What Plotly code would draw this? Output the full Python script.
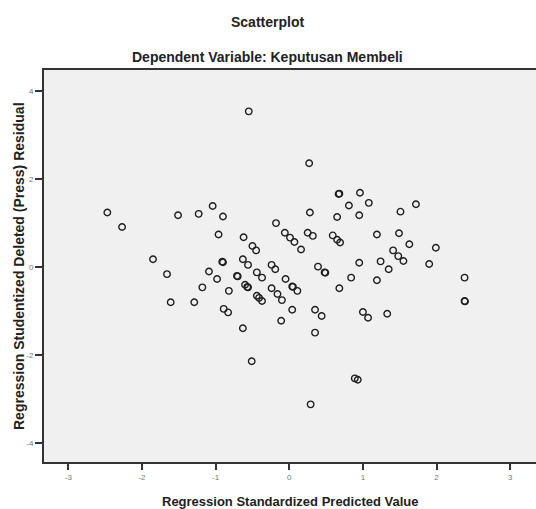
import plotly.graph_objects as go

# Regression standardized predicted value (x) and studentized deleted residual (y)
pred = [
    -0.55, -2.47, -2.27, -1.51, -1.23, -1.04, -0.90, -0.96, -0.62, -0.50,
    -0.45, -0.18, 0.27, 0.67, 0.68, 0.96, 0.81, 1.08, 1.72, 0.28,
    0.65, 0.95, 1.51, -0.06, 0.01, 0.07, 0.16, 0.25, 0.32, 0.59,
    0.65, 0.69, 1.19, 1.49, 1.63, 1.99, 1.41, 1.48, 1.55, -0.24,
    -0.19, 0.39, 0.48, 0.49, 0.95, 1.24, 1.35, 1.90, 2.38, 2.38,
    2.385, -0.37, -0.05, 0.04, 0.05, 0.11, 0.84, 1.19, 0.68, -0.24,
    -0.16, -0.10, -0.37, 0.04, 0.35, 0.44, 1.00, 1.07, 1.33, -0.11,
    0.35, 0.89, 0.93, 0.29, -1.85, -1.66, -1.61, -1.29, -1.18, -1.09,
    -0.98, -0.91, -0.90, -0.82, -0.89, -0.83, -0.63, -0.51, -0.71, -0.70,
    -0.60, -0.57, -0.56, -0.63, -0.56, -0.44, -0.44, -0.41,
]
resid = [
    3.54, 1.24, 0.91, 1.18, 1.21, 1.39, 1.15, 0.74, 0.68, 0.48,
    0.38, 1.00, 2.36, 1.66, 1.67, 1.69, 1.40, 1.46, 1.43, 1.24,
    1.14, 1.18, 1.26, 0.78, 0.67, 0.57, 0.40, 0.78, 0.71, 0.72,
    0.62, 0.56, 0.74, 0.77, 0.52, 0.44, 0.38, 0.25, 0.14, 0.05,
    -0.05, 0.01, -0.12, -0.13, 0.10, 0.13, -0.05, 0.07, -0.24, -0.77,
    -0.78, -0.24, -0.27, -0.44, -0.45, -0.54, -0.24, -0.30, -0.48, -0.48,
    -0.61, -0.75, -0.77, -0.97, -0.97, -1.11, -1.02, -1.15, -1.06, -1.22,
    -1.49, -2.53, -2.56, -3.12, 0.18, -0.16, -0.80, -0.80, -0.46, -0.10,
    -0.27, 0.12, 0.11, -0.54, -0.95, -1.03, -1.39, -2.14, -0.20, -0.21,
    -0.40, -0.45, -0.46, 0.18, 0.05, -0.12, -0.65, -0.70,
]

x_ticks = [-3, -2, -1, 0, 1, 2, 3]
x_tick_text = ["-3", "-2", "-1", "0", "1", "2", "3"]
y_ticks = [-4, -2, 0, 2, 4]
y_tick_text = ["-4", "-2", "0", "2", "4"]

title_text = "Scatterplot"
subtitle_text = "Dependent Variable: Keputusan Membeli"
x_title = "Regression Standardized Predicted Value"
y_title = "Regression Studentized Deleted (Press) Residual"

FONT = "Liberation Sans, Arial, sans-serif"

fig = go.Figure()
fig.add_trace(go.Scatter(
    x=pred, y=resid, mode="markers",
    marker=dict(symbol="circle-open", size=6.5, color="#1e1e1e",
                line=dict(width=1.4, color="#1e1e1e")),
    hoverinfo="x+y", showlegend=False,
))

fig.update_layout(
    width=536, height=509,
    margin=dict(l=44, r=0, t=70, b=47),
    paper_bgcolor="white",
    plot_bgcolor="#f0f0f0",
    font=dict(family=FONT, color="#222"),
    xaxis=dict(
        range=[-3.33, 3.35], tickvals=x_ticks, ticktext=x_tick_text,
        ticks="outside", ticklen=6, tickwidth=1.5, tickcolor="#333",
        tickfont=dict(size=8, color="#777"),
        showline=True, linewidth=2, linecolor="#333", mirror=True,
        showgrid=False, zeroline=False,
    ),
    yaxis=dict(
        range=[-4.43, 4.48], tickvals=y_ticks, ticktext=y_tick_text,
        ticks="outside", ticklen=7, tickwidth=1.5, tickcolor="#333",
        tickfont=dict(size=8, color="#777"),
        showline=True, linewidth=2, linecolor="#333", mirror=False,
        showgrid=False, zeroline=False,
    ),
    annotations=[
        dict(text="<b>%s</b>" % title_text, xref="paper", yref="paper",
             x=0.454, y=1.1224, xanchor="center", yanchor="middle",
             showarrow=False, font=dict(size=14, color="#222", family=FONT)),
        dict(text="<b>%s</b>" % subtitle_text, xref="paper", yref="paper",
             x=0.454, y=1.033, xanchor="center", yanchor="middle",
             showarrow=False, font=dict(size=14, color="#222", family=FONT)),
        dict(text="<b>%s</b>" % x_title, xref="paper", yref="paper",
             x=0.5, y=-0.102, xanchor="center", yanchor="middle",
             showarrow=False, font=dict(size=13, color="#222", family=FONT)),
        dict(text="<b>%s</b>" % y_title, xref="paper", yref="paper",
             x=-0.0508, y=0.5, xanchor="center", yanchor="middle",
             textangle=-90, showarrow=False,
             font=dict(size=14, color="#222", family=FONT)),
    ],
)

fig.write_html(
    "out.html",
    config={"displayModeBar": False},
    post_script="document.body.style.margin='0px';document.body.style.overflow='hidden';",
)
